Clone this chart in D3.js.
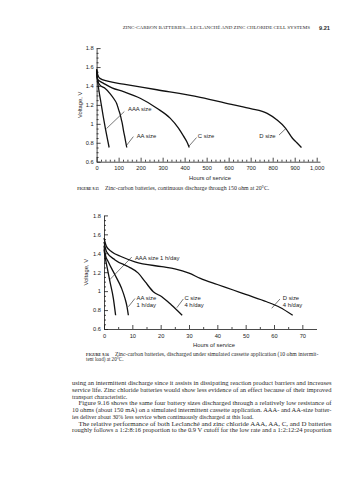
<!DOCTYPE html>
<html><head><meta charset="utf-8">
<script src="https://cdn.jsdelivr.net/npm/d3@7"></script>
<style>body{margin:0;background:#fff}svg{display:block}</style>
</head><body>
<svg id="c" width="357" height="480"></svg>
<script>
// ---------- DATA ----------
// Figure 9.15: continuous discharge through 150 ohm  [hours, volts]
const contAAA = [[0,1.57],[2,1.5],[5,1.44],[10,1.36],[20,1.22],[30,1.08],[40,0.95],[50,0.83],[57,0.75]];
const contAA  = [[0,1.56],[5,1.46],[15,1.41],[38,1.375],[61,1.32],[80,1.26],[92,1.21],[100,1.15],[107,1.10],[112,1.05],[117,1.0],[122,0.93],[129,0.85],[137,0.75]];
const contC   = [[0,1.56],[5,1.47],[15,1.45],[30,1.43],[70,1.38],[122,1.34],[198,1.27],[274,1.165],[334,1.06],[372,0.955],[395,0.87],[410,0.81],[421,0.75]];
const contD   = [[0,1.58],[5,1.52],[15,1.48],[50,1.45],[122,1.42],[274,1.36],[471,1.28],[623,1.2],[700,1.16],[775,1.11],[820,1.04],[858,0.955],[889,0.85],[910,0.80],[931,0.75]];
const contLabels = ["AAA size","AA size","C size","D size"];
const contXTicks = [0,100,200,300,400,500,600,700,800,900,1000];

// Figure 9.16: simulated cassette application (10 ohm intermittent)
const cassAAA = [[0,1.44],[0.4,1.36],[0.94,1.276],[2.1,1.1],[3.3,0.924],[4.1,0.745]];
const cassAA  = [[0,1.48],[0.5,1.38],[1.5,1.31],[3.9,1.17],[6.2,1.03],[7.4,0.924],[8.1,0.84],[8.6,0.745]];
const cassC   = [[0,1.52],[0.9,1.416],[3.9,1.33],[8.6,1.258],[12.1,1.19],[14.5,1.10],[17.4,0.994],[20.4,0.94],[23.8,0.853],[27.6,0.745]];
const cassD   = [[0,1.56],[0.9,1.47],[2.7,1.416],[6.2,1.363],[10.9,1.31],[20.4,1.258],[25,1.235],[30,1.19],[34,1.135],[40,1.07],[45.6,1.012],[50,0.965],[57.4,0.888],[62,0.83],[66.6,0.745]];
const cassLabels = [["AAA size 1 h/day"],["AA size","1 h/day"],["C size","4 h/day"],["D size","4 h/day"]];
const cassXTicks = [0,10,20,30,40,50,60,70];

const yTicks = [0.6,0.8,1,1.2,1.4,1.6,1.8];

const headerText = "ZINC-CARBON BATTERIES—LECLANCHÉ AND ZINC CHLORIDE CELL SYSTEMS";
const pageNum = "9.21";
const cap1 = ["FIGURE 9.15","Zinc-carbon batteries, continuous discharge through 150 ohm at 20°C."];
const cap2 = ["FIGURE 9.16","Zinc-carbon batteries, discharged under simulated cassette application (10 ohm intermit-","tent load) at 20°C."];
const bodyLines = [
 "using an intermittent discharge since it assists in dissipating reaction product barriers and increases",
 "service life. Zinc chloride batteries would show less evidence of an effect because of their improved",
 "transport characteristic.",
 "Figure 9.16 shows the same four battery sizes discharged through a relatively low resistance of",
 "10 ohms (about 150 mA) on a simulated intermittent cassette application. AAA- and AA-size batter-",
 "ies deliver about 30% less service when continuously discharged at this load.",
 "The relative performance of both Leclanché and zinc chloride AAA, AA, C, and D batteries",
 "roughly follows a 1:2:8:16 proportion to the 0.9 V cutoff for the low rate and a 1:2:12:24 proportion"
];

// ---------- DRAW ----------
const svg = d3.select("#c");
const SANS = "'Liberation Sans', Arial, Helvetica, sans-serif";
const SERIF = "'Liberation Serif', 'Times New Roman', serif";
const INK = "#1c1c1c";

function drawChart(cfg){
  const x = d3.scaleLinear().domain(cfg.xDomain).range(cfg.xRange);
  const y = d3.scaleLinear().domain([0.6,1.8]).range(cfg.yRange);
  const g = svg.append("g");
  const y0 = cfg.yRange[0];

  g.append("g").attr("transform",`translate(0,${y0})`)
    .call(d3.axisBottom(x).tickValues(cfg.xMinor).tickSize(-2).tickSizeOuter(0).tickFormat(""))
    .call(s=>s.select(".domain").remove());
  g.append("g").attr("transform",`translate(0,${y0})`)
    .call(d3.axisBottom(x).tickValues(cfg.xTicks).tickSize(-4).tickSizeOuter(0).tickPadding(cfg.xPad).tickFormat(d3.format(",")));
  g.append("g").attr("transform",`translate(${cfg.xRange[0]},0)`)
    .call(d3.axisLeft(y).tickValues(cfg.yMinor).tickSize(-2).tickSizeOuter(0).tickFormat(""))
    .call(s=>s.select(".domain").remove());
  g.append("g").attr("transform",`translate(${cfg.xRange[0]},0)`)
    .call(d3.axisLeft(y).tickValues(yTicks).tickSize(-4).tickSizeOuter(0).tickPadding(3).tickFormat(d=>String(d)));

  g.selectAll(".domain, .tick line").attr("stroke",INK).attr("stroke-width",0.8);
  g.selectAll(".tick text").attr("fill",INK).style("font-family",SANS).style("font-size","5.7px");

  g.append("text").attr("x",cfg.xTitleX).attr("y",cfg.xTitleY).attr("text-anchor","middle")
    .style("font-family",SANS).style("font-size","5.8px").attr("fill",INK).text("Hours of service");
  g.append("text").attr("transform",`translate(${cfg.yTitleX},${(cfg.yRange[0]+cfg.yRange[1])/2}) rotate(-90)`)
    .attr("text-anchor","middle").style("font-family",SANS).style("font-size","5.8px").attr("fill",INK).text("Voltage, V");

  const line = d3.line().x(d=>x(d[0])).y(d=>y(d[1])).curve(d3.curveMonotoneX);
  g.selectAll("path.curve").data(cfg.series).enter().append("path").attr("class","curve")
    .attr("d",line).attr("fill","none").attr("stroke","#111").attr("stroke-width",1.3)
    .attr("stroke-linejoin","round");

  cfg.annos.forEach((a,i)=>{
    g.append("line").attr("x1",x(a.leader[0][0])).attr("y1",y(a.leader[0][1]))
      .attr("x2",x(a.leader[1][0])).attr("y2",y(a.leader[1][1]))
      .attr("stroke",INK).attr("stroke-width",0.6);
    const t = g.append("text").attr("x",x(a.at[0])).attr("y",y(a.at[1]))
      .style("font-family",SANS).style("font-size","5.9px").attr("fill",INK);
    cfg.labels[i].forEach((s,j)=>{
      t.append("tspan").attr("x",x(a.at[0])).attr("dy",j?7:0).text(s);
    });
  });
}

drawChart({
  xDomain:[0,1015], xRange:[96.6,320], yRange:[161.7,48.1],
  xTicks:contXTicks, xMinor:d3.range(0,1001,20).filter(v=>v%100), yMinor:d3.range(65,180,5).map(v=>v/100).filter(v=>Math.round(v*100)%20),
  xPad:4.5, xTitleX:210, xTitleY:180, yTitleX:82,
  series:[contAAA,contAA,contC,contD],
  labels:contLabels.map(s=>[s]),
  annos:[
    {at:[142.7,1.135], leader:[[45,0.95],[126,1.13]]},
    {at:[182,0.85], leader:[[137,0.775],[167,0.865]]},
    {at:[460,0.85], leader:[[420,0.765],[454,0.855]]},
    {at:[739,0.85], leader:[[829,0.882],[861,0.953]]}
  ]
});

drawChart({
  xDomain:[0,75], xRange:[104,316.5], yRange:[329,215.4],
  xTicks:cassXTicks, xMinor:d3.range(5,75,10), yMinor:d3.range(65,180,5).map(v=>v/100).filter(v=>Math.round(v*100)%20),
  xPad:4.8, xTitleX:214, xTitleY:346.5, yTitleX:88,
  series:[cassAAA,cassAA,cassC,cassD],
  labels:cassLabels,
  annos:[
    {at:[10.9,1.334], leader:[[2.0,1.12],[9.8,1.36]]},
    {at:[11.5,0.91], leader:[[8.6,0.835],[10.9,0.922]]},
    {at:[28.4,0.91], leader:[[25.7,0.825],[28,0.917]]},
    {at:[63.1,0.91], leader:[[59.2,0.819],[62.1,0.917]]}
  ]
});

function txt(x,y,s,size,opts={}){
  const t = svg.append("text").attr("x",x).attr("y",y).text(s)
    .style("font-family",opts.family||SERIF).style("font-size",size+"px").attr("fill",opts.fill||"#2a2a2a");
  if(opts.bold) t.style("font-weight","bold");
  if(opts.len) t.attr("textLength",opts.len).attr("lengthAdjust","spacingAndGlyphs");
  return t;
}
txt(122.7,29,headerText,4.8,{len:187.3});
txt(319,29.5,pageNum,6,{family:SANS,bold:true,len:11});

txt(77.3,189.8,cap1[0],5.0,{bold:true,len:21.5});
txt(105,189.8,cap1[1],5.1,{len:164.3});

txt(86,355.8,cap2[0],5.0,{bold:true,len:23});
txt(115,355.8,cap2[1],5.1,{len:203.3});
txt(86,361.4,cap2[2],5.1);

const justified = [true,true,false,true,true,false,true,true];
const indent = [0,0,0,6.5,0,0,6.5,0];
bodyLines.forEach((s,i)=>{
  const x0 = 72 + indent[i];
  txt(x0, 385 + i*6.75, s, 5.9, justified[i] ? {len:331.5-x0} : {});
});
</script>
</body></html>
